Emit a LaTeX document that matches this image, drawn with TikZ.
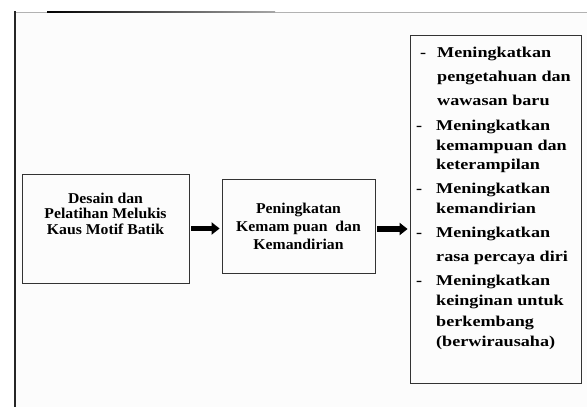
\documentclass[tikz,border=0pt]{standalone}
\usepackage{fontspec}
\setmainfont{Liberation Serif}
\newfontfamily\boxfont{Liberation Serif}[FakeStretch=1.05]
\newfontfamily\listfont{Liberation Serif}[FakeStretch=1.21]
\usetikzlibrary{positioning,arrows.meta}

\begin{document}
\begin{tikzpicture}[x=1pt,y=-1pt,
    box/.style={draw=black!80, line width=0.8pt, inner sep=0pt},
    flow/.style={line width=5.5pt, -{Triangle[length=8pt,width=12pt]},
        shorten <=2pt, shorten >=2pt},
    boxtext/.style={font=\boxfont\bfseries\fontsize{15}{15.5}\selectfont,
        align=center, inner sep=0pt},
    listtext/.style={font=\listfont\bfseries\fontsize{15}{19.5}\selectfont,
        align=left, inner sep=0pt, anchor=north west},
    listdash/.style={font=\listfont\bfseries\fontsize{15}{15}\selectfont,
        inner sep=0pt, anchor=base west},
    ]
    % page and frame
    \useasboundingbox (0,0) rectangle (587,407);
    \fill[white] (0,0) rectangle (587,407);
    \fill[black!1] (15,12) rectangle (587,407);
    \draw[black!30, line width=1pt] (14,12) -- (587,12);
    \shade[left color=black, right color=black!35] (47,11.2) rectangle (275,12.8);
    \draw[black!85, line width=2.5pt] (15,11) -- (15,407);

    % boxes
    \node[box, minimum width=167pt, minimum height=109pt] (desain) at (105.5,228.5) {};
    \node[boxtext, anchor=north] (desaintext) at (105.5,192.5)
        {Desain dan\\Pelatihan Melukis\\Kaus Motif Batik};
    \node[box, boxtext, font=\boxfont\bfseries\fontsize{15}{18}\selectfont,
        minimum width=153pt, minimum height=94pt] (peningkatan) at (298.5,226)
        {Peningkatan\\Kemam puan\ \ dan\\Kemandirian};
    \node[box, minimum width=171pt, minimum height=348pt] (hasil) at (495.5,209) {};

    % arrows
    \draw[flow] (desain.east) -- (peningkatan.west |- desain.east);
    \coordinate[yshift=-3pt] (out) at (peningkatan.east);
    \draw[flow] (out) -- (out -| hasil.west);

    % list
    \node[listdash] (dash1) at (420,57.2) {-};
    \node[listtext, font=\listfont\bfseries\fontsize{15}{24}\selectfont] (item1) at (437,47)
        {Meningkatkan\\pengetahuan dan\\wawasan baru};
    \node[listdash] (dash2) at (416,130.2) {-};
    \node[listtext] (item2) at (436,120) {Meningkatkan\\kemampuan dan\\keterampilan};
    \node[listdash] (dash3) at (416,193.2) {-};
    \node[listtext] (item3) at (436,183) {Meningkatkan\\kemandirian};
    \node[listdash] (dash4) at (416,237.2) {-};
    \node[listtext, font=\listfont\bfseries\fontsize{15}{24}\selectfont] (item4) at (436,227)
        {Meningkatkan\\rasa percaya diri};
    \node[listdash] (dash5) at (416,285.2) {-};
    \node[listtext, font=\listfont\bfseries\fontsize{15}{20.3}\selectfont] (item5) at (436,275)
        {Meningkatkan\\keinginan untuk\\berkembang\\(berwirausaha)};
\end{tikzpicture}
\end{document}
